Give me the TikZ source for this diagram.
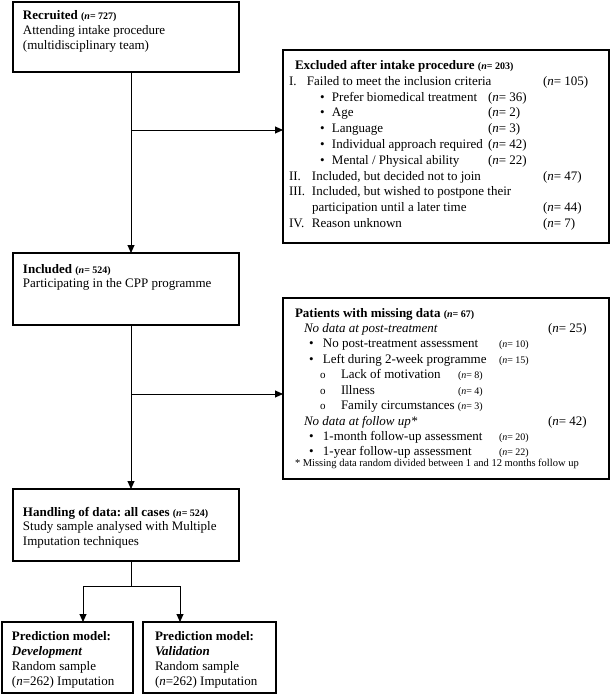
\documentclass[tikz,border=0pt]{standalone}
\usepackage{fontspec}
\setmainfont{Liberation Serif}
\usetikzlibrary{arrows.meta}
\frenchspacing
\newcommand{\nsb}[1]{{\fontsize{10}{10}\selectfont\bfseries(\textit{n}= #1)}}
\newcommand{\ns}[1]{{\fontsize{10}{10}\selectfont(\textit{n}= #1)}}
\newcommand{\nn}[1]{(\textit{n}= #1)}
\newcommand{\fst}{\rule{0pt}{10pt}}
\newcommand{\obul}{{\fontsize{11}{11}\selectfont o}}
\begin{document}
\begin{tikzpicture}[x=1pt,y=-1pt,
  box/.style={draw=black,line width=1.1pt,inner sep=0pt,outer sep=0pt,anchor=north west},
  txt/.style={inner sep=0pt,outer sep=0pt,anchor=north west,align=left},
  conn/.style={draw=black,line width=0.9pt},
  arr/.style={conn,-{Triangle[length=8pt,width=7pt]}}]
\useasboundingbox (0,0) rectangle (611,694);
% boxes
\node[box,minimum width=226,minimum height=70] (rec) at (13,2) {};
\node[box,minimum width=226,minimum height=72] (inc) at (13,253) {};
\node[box,minimum width=226,minimum height=72] (hand) at (13,489) {};
\node[box,minimum width=326,minimum height=193] (exc) at (283,50) {};
\node[box,minimum width=326,minimum height=181] (pat) at (283,298) {};
\node[box,minimum width=131,minimum height=71] (dev) at (2,622) {};
\node[box,minimum width=133,minimum height=71] (val) at (143,622) {};
% texts
\node[txt,font=\fontsize{13}{15}\selectfont] (rect) at (23,9.5)
  {\fst\textbf{Recruited} \nsb{727}\\Attending intake procedure\\(multidisciplinary team)};
\node[txt,font=\fontsize{13}{14.5}\selectfont] (inct) at (23,263)
  {\fst\textbf{Included} \nsb{524}\\Participating in the CPP programme};
\node[txt,font=\fontsize{13}{14.5}\selectfont] (handt) at (23,506)
  {\fst\textbf{Handling of data: all cases} \nsb{524}\\Study sample analysed with Multiple\\Imputation techniques};
\node[txt,font=\fontsize{13}{15.3}\selectfont] (devt) at (12,630)
  {\fst\textbf{Prediction model:}\\\textbf{\textit{Development}}\\Random sample\\(\textit{n}=262) Imputation};
\node[txt,font=\fontsize{13}{15.3}\selectfont] (valt) at (155,630)
  {\fst\textbf{Prediction model:}\\\textbf{\textit{Validation}}\\Random sample\\(\textit{n}=262) Imputation};
\node[txt,font=\fontsize{13}{15.8}\selectfont] (exct) at (289,59.5)
  {\fst\hspace*{6pt}\textbf{Excluded after intake procedure} \nsb{203}\\
   \makebox[18pt][l]{I.}\makebox[236pt][l]{Failed to meet the inclusion criteria}\nn{105}\\
   \hspace*{31pt}\makebox[12pt][l]{\textbullet}\makebox[156pt][l]{Prefer biomedical treatment}\nn{36}\\
   \hspace*{31pt}\makebox[12pt][l]{\textbullet}\makebox[156pt][l]{Age}\nn{2}\\
   \hspace*{31pt}\makebox[12pt][l]{\textbullet}\makebox[156pt][l]{Language}\nn{3}\\
   \hspace*{31pt}\makebox[12pt][l]{\textbullet}\makebox[156pt][l]{Individual approach required}\nn{42}\\
   \hspace*{31pt}\makebox[12pt][l]{\textbullet}\makebox[156pt][l]{Mental / Physical ability}\nn{22}\\
   \makebox[23pt][l]{II.}\makebox[231pt][l]{Included, but decided not to join}\nn{47}\\
   \makebox[23pt][l]{III.}Included, but wished to postpone their\\
   \hspace*{23pt}\makebox[231pt][l]{participation until a later time}\nn{44}\\
   \makebox[23pt][l]{IV.}\makebox[231pt][l]{Reason unknown}\nn{7}};
\node[txt,font=\fontsize{13}{15.44}\selectfont] (patt) at (295,307)
  {\fst\textbf{Patients with missing data} \nsb{67}\\
   \hspace*{9pt}\makebox[244pt][l]{\textit{No data at post-treatment}}\nn{25}\\
   \hspace*{14pt}\makebox[14pt][l]{\textbullet}\makebox[176pt][l]{No post-treatment assessment}\ns{10}\\
   \hspace*{14pt}\makebox[14pt][l]{\textbullet}\makebox[176pt][l]{Left during 2-week programme}\ns{15}\\
   \hspace*{25pt}\makebox[21pt][l]{\obul}\makebox[117pt][l]{Lack of motivation}\ns{8}\\
   \hspace*{25pt}\makebox[21pt][l]{\obul}\makebox[117pt][l]{Illness}\ns{4}\\
   \hspace*{25pt}\makebox[21pt][l]{\obul}Family circumstances \ns{3}\\
   \hspace*{9pt}\makebox[244pt][l]{\textit{No data at follow up*}}\nn{42}\\
   \hspace*{14pt}\makebox[14pt][l]{\textbullet}\makebox[176pt][l]{1-month follow-up assessment}\ns{20}\\
   \hspace*{14pt}\makebox[14pt][l]{\textbullet}\makebox[176pt][l]{1-year follow-up assessment}\ns{22}};
\node[txt,anchor=base west,font=\fontsize{10.5}{12}\selectfont] (foot) at (295,466.5)
  {* Missing data random divided between 1 and 12 months follow up};
% connectors
\coordinate (spine) at (131,0);
\coordinate (b1) at (131,130);
\coordinate (b2) at (131,394);
\coordinate (b3) at (131,586);
\coordinate (dl) at (83,586);
\coordinate (dr) at (180,586);
\draw[arr] (rec.south -| spine) -- (inc.north -| spine);
\draw[arr] (b1) -- (b1 -| exc.west);
\draw[arr] (inc.south -| spine) -- (hand.north -| spine);
\draw[arr] (b2) -- (b2 -| pat.west);
\draw[conn] (hand.south -| spine) -- (b3);
\draw[conn] (dl) -- (dr);
\draw[arr] (dl) -- (dl |- dev.north);
\draw[arr] (dr) -- (dr |- val.north);
\end{tikzpicture}
\end{document}
